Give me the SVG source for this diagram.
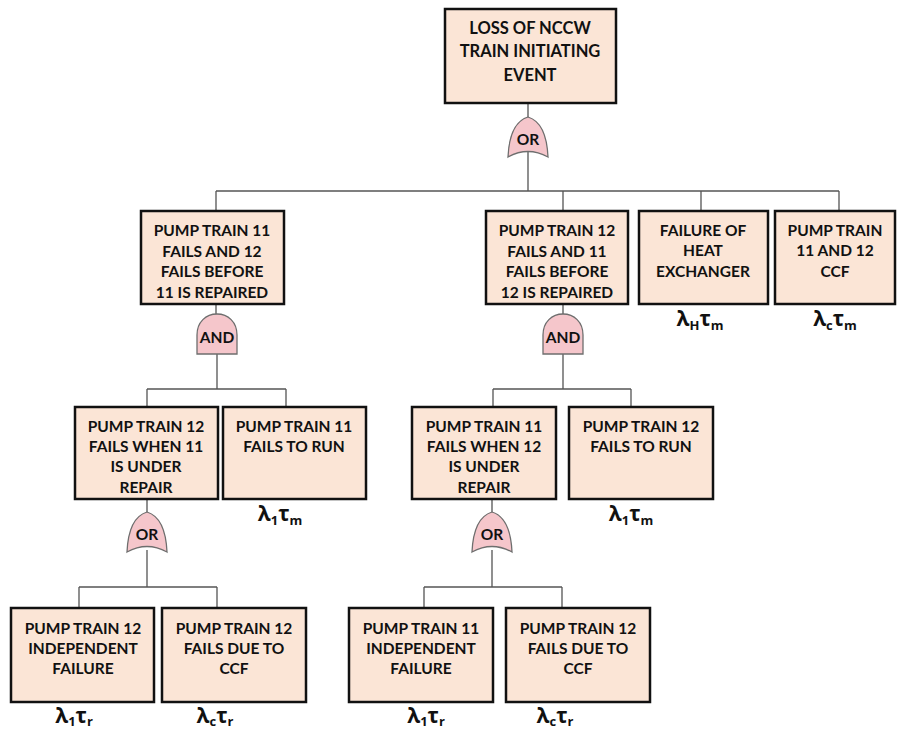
<svg xmlns="http://www.w3.org/2000/svg" width="897" height="732" viewBox="0 0 897 732">
<style>
.box{fill:#fbe5d6;stroke:#111;stroke-width:2.5}
.t{font-family:Lato,"Open Sans",sans-serif;font-weight:700;font-size:15.5px;fill:#111;text-anchor:middle}
.tt{font-size:16.5px}
.gate{fill:#f5c6cb;stroke:#6e6e6e;stroke-width:1.3}
.g{font-family:Lato,"Open Sans",sans-serif;font-weight:700;font-size:15.5px;fill:#111;text-anchor:middle}
.c{fill:none;stroke:#555;stroke-width:1.3}
.lbl{font-family:"Open Sans","DejaVu Sans",sans-serif;font-weight:700;font-size:21px;fill:#111;text-anchor:middle}
.sub{font-size:13px}
</style>
<rect width="897" height="732" fill="#fff"/>
<g id="connectors">
<path class="c" d="M528,103V118M528,152V191M216,191H839M216,191V212M563,191V212M701,191V212M839,191V212"/>
<path class="c" d="M216,304V315M217,352V389M147,389H286M147,389V407M286,389V407"/>
<path class="c" d="M563,304V315M563,352V389M493,389H631M493,389V407M631,389V407"/>
<path class="c" d="M147,499V513M147,550V587M79,587H217M79,587V608M217,587V608"/>
<path class="c" d="M492,499V513M492,550V587M424,587H562M424,587V608M562,587V608"/>
</g>
<g id="top">
<rect class="box" x="445" y="9" width="171" height="94"/>
<text class="t tt" x="530" y="34">LOSS OF NCCW</text>
<text class="t tt" x="530" y="57">TRAIN INITIATING</text>
<text class="t tt" x="530" y="81">EVENT</text>
</g>
<g id="or1">
<path class="gate" d="M508,157C509,135 515,121 528,117C541,121 547,135 548,157Q528,146 508,157Z"/>
<text class="g" x="528" y="145">OR</text>
</g>
<g id="n11">
<rect class="box" x="141" y="211" width="143" height="93"/>
<text class="t" x="212" y="236">PUMP TRAIN 11</text>
<text class="t" x="212" y="257">FAILS AND 12</text>
<text class="t" x="212" y="277">FAILS BEFORE</text>
<text class="t" x="212" y="298">11 IS REPAIRED</text>
</g>
<g id="n12">
<rect class="box" x="486" y="211" width="142" height="93"/>
<text class="t" x="557" y="236">PUMP TRAIN 12</text>
<text class="t" x="557" y="257">FAILS AND 11</text>
<text class="t" x="557" y="277">FAILS BEFORE</text>
<text class="t" x="557" y="298">12 IS REPAIRED</text>
</g>
<g id="hx">
<rect class="box" x="639" y="211" width="129" height="93"/>
<text class="t" x="703" y="236">FAILURE OF</text>
<text class="t" x="703" y="256">HEAT</text>
<text class="t" x="703" y="277">EXCHANGER</text>
<text class="lbl" x="700" y="326">λ<tspan class="sub" dy="4">H</tspan><tspan dy="-4">τ</tspan><tspan class="sub" dy="4">m</tspan></text>
</g>
<g id="ccf">
<rect class="box" x="775" y="211" width="120" height="93"/>
<text class="t" x="835" y="236">PUMP TRAIN</text>
<text class="t" x="835" y="256">11 AND 12</text>
<text class="t" x="835" y="277">CCF</text>
<text class="lbl" x="835" y="326">λ<tspan class="sub" dy="4">c</tspan><tspan dy="-4">τ</tspan><tspan class="sub" dy="4">m</tspan></text>
</g>
<g id="and1">
<path class="gate" d="M197,354V335C197,322 206,314 217,314C228,314 237,322 237,335V354Z"/>
<text class="g" x="217" y="343">AND</text>
</g>
<g id="and2">
<path class="gate" d="M543,354V335C543,322 552,314 563,314C574,314 583,322 583,335V354Z"/>
<text class="g" x="563" y="343">AND</text>
</g>
<g id="n12u">
<rect class="box" x="75" y="407" width="143" height="92"/>
<text class="t" x="146" y="432">PUMP TRAIN 12</text>
<text class="t" x="146" y="452">FAILS WHEN 11</text>
<text class="t" x="146" y="472">IS UNDER</text>
<text class="t" x="146" y="493">REPAIR</text>
</g>
<g id="n11r">
<rect class="box" x="223" y="407" width="143" height="92"/>
<text class="t" x="294" y="432">PUMP TRAIN 11</text>
<text class="t" x="294" y="452">FAILS TO RUN</text>
<text class="lbl" x="280" y="521">λ<tspan class="sub" dy="4">1</tspan><tspan dy="-4">τ</tspan><tspan class="sub" dy="4">m</tspan></text>
</g>
<g id="n11u">
<rect class="box" x="412" y="407" width="144" height="92"/>
<text class="t" x="484" y="432">PUMP TRAIN 11</text>
<text class="t" x="484" y="452">FAILS WHEN 12</text>
<text class="t" x="484" y="472">IS UNDER</text>
<text class="t" x="484" y="493">REPAIR</text>
</g>
<g id="n12r">
<rect class="box" x="569" y="407" width="144" height="92"/>
<text class="t" x="641" y="432">PUMP TRAIN 12</text>
<text class="t" x="641" y="452">FAILS TO RUN</text>
<text class="lbl" x="631" y="521">λ<tspan class="sub" dy="4">1</tspan><tspan dy="-4">τ</tspan><tspan class="sub" dy="4">m</tspan></text>
</g>
<g id="or2">
<path class="gate" d="M127,552C128,530 134,516 147,512C160,516 166,530 167,552Q147,541 127,552Z"/>
<text class="g" x="147" y="540">OR</text>
</g>
<g id="or3">
<path class="gate" d="M472,552C473,530 479,516 492,512C505,516 511,530 512,552Q492,541 472,552Z"/>
<text class="g" x="492" y="540">OR</text>
</g>
<g id="n12i">
<rect class="box" x="11" y="608" width="143" height="94"/>
<text class="t" x="83" y="634">PUMP TRAIN 12</text>
<text class="t" x="83" y="654">INDEPENDENT</text>
<text class="t" x="83" y="674">FAILURE</text>
<text class="lbl" x="74" y="723">λ<tspan class="sub" dy="3">1</tspan><tspan dy="-3">τ</tspan><tspan class="sub" dy="3">r</tspan></text>
</g>
<g id="n12c">
<rect class="box" x="162" y="608" width="144" height="94"/>
<text class="t" x="234" y="634">PUMP TRAIN 12</text>
<text class="t" x="234" y="654">FAILS DUE TO</text>
<text class="t" x="234" y="674">CCF</text>
<text class="lbl" x="215" y="723">λ<tspan class="sub" dy="3">c</tspan><tspan dy="-3">τ</tspan><tspan class="sub" dy="3">r</tspan></text>
</g>
<g id="n11i">
<rect class="box" x="349" y="608" width="144" height="94"/>
<text class="t" x="421" y="634">PUMP TRAIN 11</text>
<text class="t" x="421" y="654">INDEPENDENT</text>
<text class="t" x="421" y="674">FAILURE</text>
<text class="lbl" x="426" y="723">λ<tspan class="sub" dy="3">1</tspan><tspan dy="-3">τ</tspan><tspan class="sub" dy="3">r</tspan></text>
</g>
<g id="n12c2">
<rect class="box" x="506" y="608" width="144" height="94"/>
<text class="t" x="578" y="634">PUMP TRAIN 12</text>
<text class="t" x="578" y="654">FAILS DUE TO</text>
<text class="t" x="578" y="674">CCF</text>
<text class="lbl" x="555" y="723">λ<tspan class="sub" dy="3">c</tspan><tspan dy="-3">τ</tspan><tspan class="sub" dy="3">r</tspan></text>
</g>
</svg>
